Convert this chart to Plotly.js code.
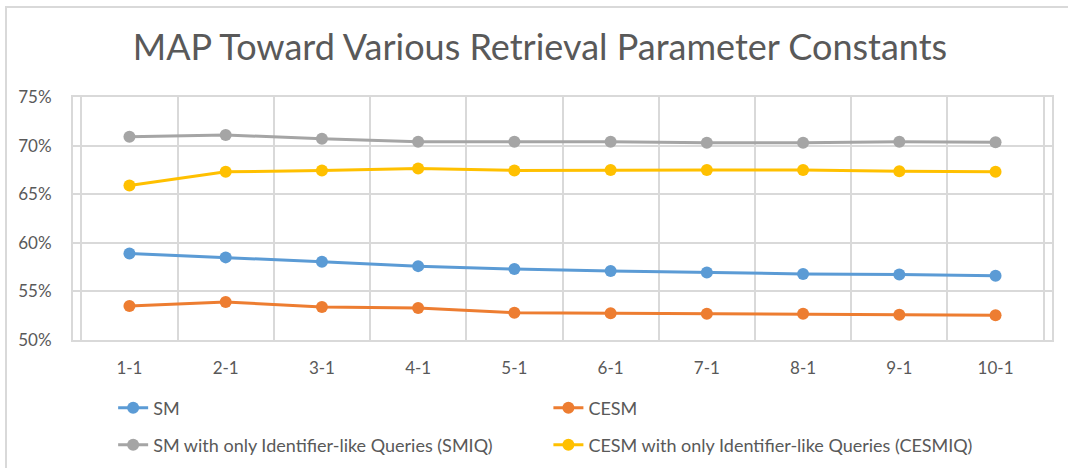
<!DOCTYPE html>
<html>
<head>
<meta charset="utf-8">
<script src="https://cdn.plot.ly/plotly-3.0.1.min.js"></script>
<style>
  html, body { margin: 0; padding: 0; background: #ffffff; }
  #wrap { position: relative; width: 1068px; height: 468px; overflow: hidden; }
  #frame { position: absolute; left: 5px; top: 6px; width: 1100px; height: 500px; border: 2px solid #d9d9d9; box-sizing: border-box; }
  #chart { position: absolute; left: 0; top: 0; width: 1068px; height: 468px; }
</style>
</head>
<body>
<div id="wrap">
  <div id="frame"></div>
  <div id="chart"></div>
</div>
<script>
const categories = ["1-1", "2-1", "3-1", "4-1", "5-1", "6-1", "7-1", "8-1", "9-1", "10-1"];
const smValues     = [0.589, 0.585, 0.5805, 0.576, 0.573, 0.571, 0.5695, 0.568, 0.5675, 0.566];
const cesmValues   = [0.535, 0.539, 0.534, 0.533, 0.528, 0.5275, 0.527, 0.527, 0.526, 0.5255];
const smiqValues   = [0.709, 0.711, 0.707, 0.704, 0.704, 0.704, 0.703, 0.703, 0.704, 0.7035];
const cesmiqValues = [0.659, 0.673, 0.6745, 0.6765, 0.6745, 0.675, 0.675, 0.675, 0.6735, 0.673];
const seriesNames = [
  "SM",
  "CESM",
  "SM with only Identifier-like Queries (SMIQ)",
  "CESM with only Identifier-like Queries (CESMIQ)"
];
const yTicks = [0.50, 0.55, 0.60, 0.65, 0.70, 0.75];

const colors = ["#5B9BD5", "#ED7D31", "#A5A5A5", "#FFC000"];
const allValues = [smValues, cesmValues, smiqValues, cesmiqValues];
const legendIds = ["legend", "legend2", "legend3", "legend4"];

const traces = allValues.map((vals, i) => ({
  type: "scatter",
  mode: "lines+markers",
  x: categories,
  y: vals,
  name: seriesNames[i],
  legend: legendIds[i],
  line: { color: colors[i], width: 3 },
  marker: { color: colors[i], size: 12 },
  hoverinfo: "x+y+name"
}));

const tickFont = { family: "Lato, 'Open Sans', sans-serif", size: 17, color: "#595959" };
const legendFont = { family: "Lato, 'Open Sans', sans-serif", size: 18, color: "#595959" };

const legendCommon = {
  orientation: "v",
  xref: "paper",
  xanchor: "left",
  yanchor: "middle",
  font: legendFont,
  bgcolor: "rgba(0,0,0,0)"
};

const col1 = 0.041, col2 = 0.4856;
const row1 = (340 - 408) / 243, row2 = (340 - 445) / 243;

const layout = {
  width: 1068,
  height: 468,
  paper_bgcolor: "rgba(0,0,0,0)",
  plot_bgcolor: "rgba(0,0,0,0)",
  margin: { l: 73, r: 16, t: 97, b: 128, autoexpand: false },
  title: {
    text: "MAP Toward Various Retrieval Parameter Constants",
    font: { family: "Lato, 'Open Sans', sans-serif", size: 36, color: "#595959" },
    x: 540 / 1068,
    xanchor: "center",
    xref: "container",
    y: 1 - 47 / 468,
    yanchor: "middle",
    yref: "container"
  },
  xaxis: {
    type: "category",
    tickson: "boundaries",
    showgrid: true,
    gridcolor: "#d9d9d9",
    gridwidth: 2,
    showline: true,
    linecolor: "#d9d9d9",
    linewidth: 2,
    mirror: true,
    ticks: "",
    tickfont: tickFont,
    ticklabelstandoff: 12,
    zeroline: false,
    fixedrange: true
  },
  yaxis: {
    range: [0.50, 0.75],
    tickvals: yTicks,
    tickformat: ".0%",
    showgrid: true,
    gridcolor: "#d9d9d9",
    gridwidth: 2,
    showline: true,
    linecolor: "#d9d9d9",
    linewidth: 2,
    mirror: true,
    ticks: "",
    tickfont: tickFont,
    ticklabelstandoff: 16,
    zeroline: false,
    fixedrange: true
  },
  showlegend: true,
  legend:  Object.assign({}, legendCommon, { x: col1, y: row1 }),
  legend2: Object.assign({}, legendCommon, { x: col2, y: row1 }),
  legend3: Object.assign({}, legendCommon, { x: col1, y: row2 }),
  legend4: Object.assign({}, legendCommon, { x: col2, y: row2 })
};

Plotly.newPlot("chart", traces, layout, { displayModeBar: false, staticPlot: false, responsive: false });
</script>
</body>
</html>
